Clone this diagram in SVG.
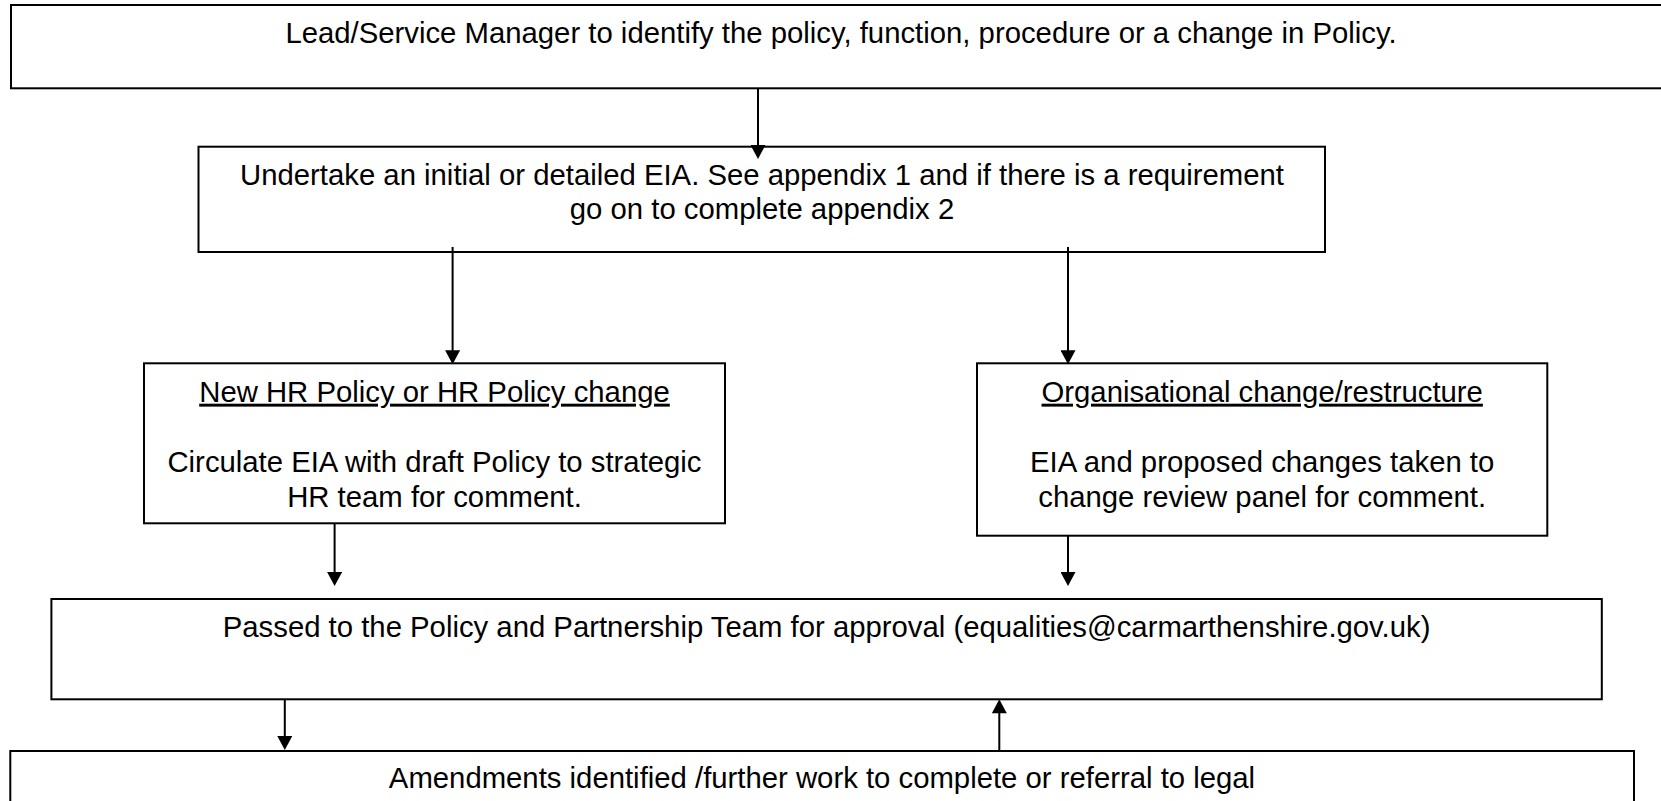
<svg xmlns="http://www.w3.org/2000/svg" width="1661" height="801" viewBox="0 0 1661 801">
<style>
  .box { fill: #ffffff; stroke: #000000; stroke-width: 2; }
  .lbl { font-family: "Liberation Sans", Arial, sans-serif; font-size: 29.3px; fill: #000000; text-anchor: middle; }
  .ttl { text-decoration: underline; }
  .conn { stroke: #000000; stroke-width: 2; fill: none; marker-end: url(#arrow); }
</style>
<defs>
  <marker id="arrow" markerUnits="userSpaceOnUse" markerWidth="15" markerHeight="15" viewBox="0 0 14 15" refX="4" refY="7.5" orient="auto">
    <path d="M0,0 L14,7.5 L0,15 Z" fill="#000000"/>
  </marker>
</defs>
<rect x="0" y="0" width="1661" height="801" fill="#ffffff"/>

<g id="node-identify">
  <rect class="box" x="11" y="5" width="1660" height="83.3"/>
  <text class="lbl" x="841" y="43.3">Lead/Service Manager to identify the policy, function, procedure or a change in Policy.</text>
</g>

<g id="node-eia">
  <rect class="box" x="198.5" y="146.7" width="1126.5" height="105.3"/>
  <text class="lbl" x="762" y="185">Undertake an initial or detailed EIA. See appendix 1 and if there is a requirement</text>
  <text class="lbl" x="762" y="219">go on to complete appendix 2</text>
</g>

<g id="node-hr">
  <rect class="box" x="144" y="363.3" width="581" height="160"/>
  <text class="lbl ttl" x="434.5" y="401.7">New HR Policy or HR Policy change</text>
  <text class="lbl" x="434.5" y="472">Circulate EIA with draft Policy to strategic</text>
  <text class="lbl" x="434.5" y="507">HR team for comment.</text>
</g>

<g id="node-org">
  <rect class="box" x="977" y="363.3" width="570.3" height="172.4"/>
  <text class="lbl ttl" x="1262.2" y="401.7">Organisational change/restructure</text>
  <text class="lbl" x="1262.2" y="472">EIA and proposed changes taken to</text>
  <text class="lbl" x="1262.2" y="507">change review panel for comment.</text>
</g>

<g id="node-approval">
  <rect class="box" x="51.4" y="599" width="1550.4" height="100.3"/>
  <text class="lbl" x="826.6" y="637.3">Passed to the Policy and Partnership Team for approval (equalities@carmarthenshire.gov.uk)</text>
</g>

<g id="node-amend">
  <rect class="box" x="10.3" y="751" width="1623.7" height="80"/>
  <text class="lbl" x="822" y="788.3">Amendments identified /further work to complete or referral to legal</text>
</g>

<g id="connectors">
  <line class="conn" x1="758" y1="88" x2="758" y2="149"/>
  <line class="conn" x1="452.6" y1="247" x2="452.6" y2="354.3"/>
  <line class="conn" x1="1068" y1="247" x2="1068" y2="354.3"/>
  <line class="conn" x1="334.6" y1="523.3" x2="334.6" y2="576"/>
  <line class="conn" x1="1068" y1="535.7" x2="1068" y2="576"/>
  <line class="conn" x1="284.8" y1="699.3" x2="284.8" y2="740"/>
  <line class="conn" x1="999.3" y1="751" x2="999.3" y2="709.3"/>
</g>
</svg>
